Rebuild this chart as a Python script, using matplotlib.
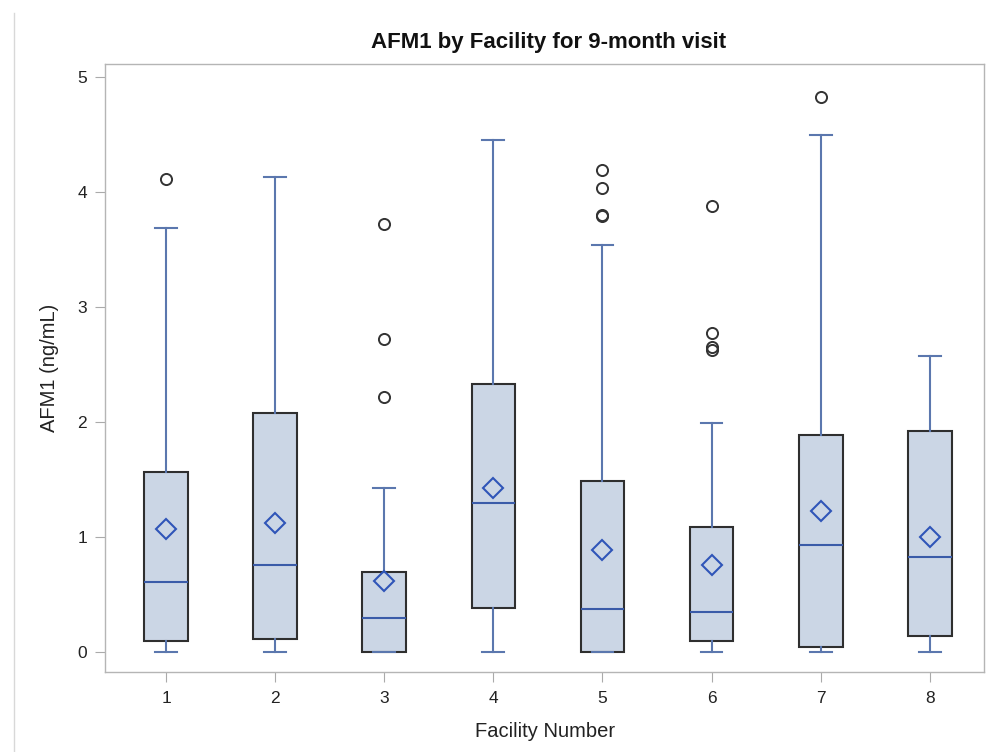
import matplotlib.pyplot as plt
from matplotlib.lines import Line2D

plt.rcParams['font.family'] = ['Liberation Sans', 'DejaVu Sans']

# Valores
facilities = [1, 2, 3, 4, 5, 6, 7, 8]
whislo = [0, 0, 0, 0, 0, 0, 0, 0]
q1 = [0.10, 0.12, 0.0, 0.39, 0.0, 0.10, 0.05, 0.14]
medians = [0.61, 0.76, 0.30, 1.30, 0.38, 0.35, 0.93, 0.83]
means = [1.07, 1.12, 0.62, 1.43, 0.89, 0.76, 1.23, 1.00]
q3 = [1.57, 2.08, 0.70, 2.33, 1.49, 1.09, 1.89, 1.92]
whishi = [3.69, 4.13, 1.43, 4.45, 3.54, 1.99, 4.49, 2.57]
outliers = [
    [4.11],
    [],
    [3.72, 2.72, 2.22],
    [],
    [4.19, 4.03, 3.80, 3.79],
    [3.88, 2.77, 2.65, 2.63],
    [4.82],
    [],
]

stats = []
for i in range(len(facilities)):
    stats.append({
        'label': str(facilities[i]),
        'whislo': whislo[i], 'q1': q1[i], 'med': medians[i],
        'q3': q3[i], 'whishi': whishi[i], 'mean': means[i],
        'fliers': outliers[i],
    })

fig = plt.figure(figsize=(9.97, 7.52), dpi=100)
ax = fig.add_axes([0.1053, 0.1064, 0.882, 0.8085])

ax.bxp(
    stats, positions=facilities, widths=0.4, capwidths=0.2,
    showmeans=True, patch_artist=True,
    boxprops=dict(facecolor='#CBD6E5', edgecolor='#2f2f2f', linewidth=1.5),
    medianprops=dict(color='#3A5BA8', linewidth=1.5),
    whiskerprops=dict(color='#5B77AE', linewidth=1.5),
    capprops=dict(color='#5B77AE', linewidth=1.5),
    meanprops=dict(marker='D', markerfacecolor='none', markeredgecolor='#2F55B8',
                   markersize=10.5, markeredgewidth=1.5),
    flierprops=dict(marker='o', markerfacecolor='none', markeredgecolor='#333333',
                    markersize=8, markeredgewidth=1.4),
)

ax.set_xlim(0.44, 8.5)
ax.set_ylim(-0.17, 5.11)
ax.set_yticks([0, 1, 2, 3, 4, 5])
ax.set_xticks(facilities)
ax.set_xticklabels([str(f) for f in facilities])

for sp in ax.spines.values():
    sp.set_color('#B5B5B5')
    sp.set_linewidth(1.0)
ax.tick_params(colors='#aaaaaa', labelcolor='#222222', labelsize=12.5, length=7)
ax.tick_params(axis='y', pad=6)
ax.tick_params(axis='x', pad=7)

ax.set_xlabel('Facility Number', fontsize=14.5, color='#222222', labelpad=11)
ax.set_ylabel('AFM1 (ng/mL)', fontsize=14.5, color='#222222', labelpad=13)
fig.text(0.5506, 0.943, 'AFM1 by Facility for 9-month visit', ha='center', va='center',
         fontsize=16, fontweight='bold', color='#111111')

# linha fina à esquerda
fig.add_artist(Line2D([0.014, 0.014], [0.0, 0.983], color='#D8D8D8', linewidth=1.0,
                      transform=fig.transFigure))

fig.savefig('out.png', dpi=100)
